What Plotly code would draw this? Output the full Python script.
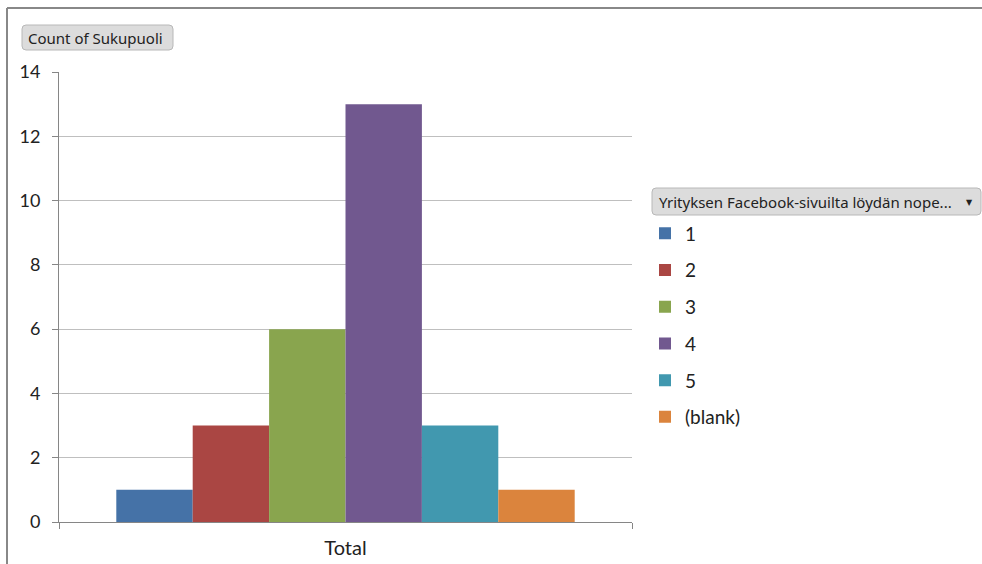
import plotly.graph_objects as go

categories = ["Total"]
series_names = ["1", "2", "3", "4", "5", "(blank)"]
series_values = [1, 3, 6, 13, 3, 1]
colors = ["#4572A7", "#AA4643", "#89A54E", "#71588F", "#4198AF", "#DB843D"]
y_ticks = [0, 2, 4, 6, 8, 10, 12, 14]

W, H = 982, 564
L, R, T, B = 59, 632, 72, 522


def px(x):
    return (x - L) / (R - L)


def py(y):
    return (B - y) / (B - T)


def rrect(x0, y0, x1, y1, r):
    a, b, c, d = px(x0), px(x1), py(y0), py(y1)
    rx = r / (R - L)
    ry = r / (B - T)
    return (f"M {a+rx},{c} L {b-rx},{c} Q {b},{c} {b},{c-ry} L {b},{d+ry} "
            f"Q {b},{d} {b-rx},{d} L {a+rx},{d} Q {a},{d} {a},{d+ry} L {a},{c-ry} Q {a},{c} {a+rx},{c} Z")


fig = go.Figure()
for i, (name, val) in enumerate(zip(series_names, series_values)):
    fig.add_trace(go.Bar(
        x=categories, y=[val], name=name, legendgroup=name,
        marker=dict(color=colors[i], line=dict(width=0)),
    ))

font_main = "Lato, 'Open Sans', sans-serif"
font_ui = "'Noto Sans', 'DejaVu Sans', sans-serif"

shapes = [
    # outer frame (left and top edges)
    dict(type="line", xref="paper", yref="paper", x0=px(7), x1=px(7), y0=py(8), y1=py(570),
         line=dict(color="#888888", width=2)),
    dict(type="line", xref="paper", yref="paper", x0=px(7), x1=px(990), y0=py(8), y1=py(8),
         line=dict(color="#888888", width=2)),
    # buttons
    dict(type="path", xref="paper", yref="paper", path=rrect(22, 25, 173, 50, 4),
         fillcolor="#dcdcdc", line=dict(color="#b8b8b8", width=1)),
    dict(type="path", xref="paper", yref="paper", path=rrect(652, 188, 981, 215, 4),
         fillcolor="#dcdcdc", line=dict(color="#b8b8b8", width=1)),
]

annotations = [
    dict(text="Count of Sukupuoli", xref="paper", yref="paper", x=px(26), y=py(37.5),
         xanchor="left", yanchor="middle", showarrow=False,
         font=dict(family=font_ui, size=15, color="#222222")),
    dict(text="Yrityksen Facebook-sivuilta löydän nope...", xref="paper", yref="paper",
         x=px(657), y=py(201.5), xanchor="left", yanchor="middle", showarrow=False,
         font=dict(family=font_ui, size=15, color="#222222")),
    dict(text="▼", xref="paper", yref="paper", x=px(969), y=py(201.5),
         xanchor="center", yanchor="middle", showarrow=False,
         font=dict(family=font_ui, size=8, color="#222222")),
]

fig.update_layout(
    width=W, height=H,
    margin=dict(l=L, r=W - R, t=T, b=H - B),
    paper_bgcolor="white", plot_bgcolor="white",
    barmode="group", bargap=0.2, bargroupgap=0,
    font=dict(family=font_main, size=16, color="#222222"),
    showlegend=True,
    legend=dict(x=px(645), y=py(214.5), xanchor="left", yanchor="top",
                font=dict(family=font_main, size=19, color="#222222"),
                tracegroupgap=9, itemclick=False, bgcolor="rgba(0,0,0,0)"),
    xaxis=dict(type="category", showline=True, linecolor="#868686", linewidth=1,
               ticks="outside", tickson="boundaries", ticklen=6, tickcolor="#868686",
               showgrid=False, tickfont=dict(family=font_main, size=20),
               ticklabelstandoff=8, automargin=False),
    yaxis=dict(range=[0, 14], tickvals=y_ticks, showline=True, linecolor="#868686",
               linewidth=1, ticks="outside", ticklen=6, tickcolor="#868686",
               showgrid=True, gridcolor="#bfbfbf", gridwidth=1, zeroline=False,
               tickfont=dict(family=font_main, size=18), ticklabelstandoff=8,
               automargin=False),
    shapes=shapes, annotations=annotations,
)

fig.write_html("out.html")
